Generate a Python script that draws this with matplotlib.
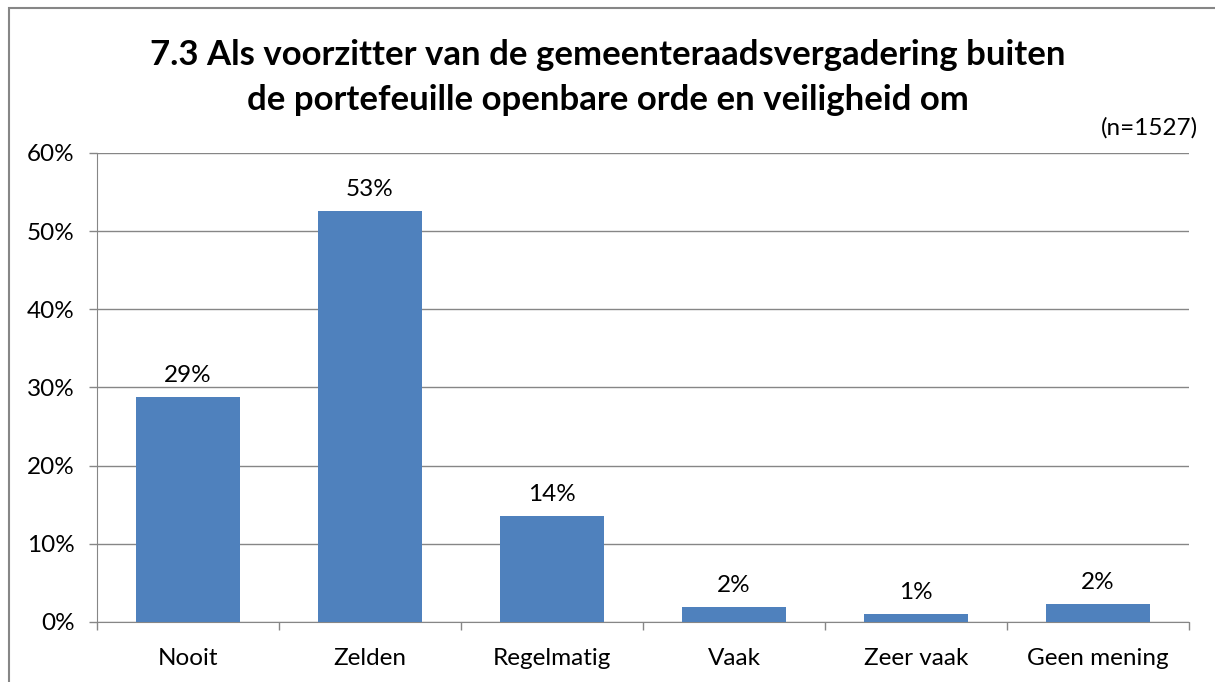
import matplotlib.pyplot as plt
from matplotlib.patches import Rectangle
from matplotlib.ticker import FixedLocator, PercentFormatter

categories = ["Nooit", "Zelden", "Regelmatig", "Vaak", "Zeer vaak", "Geen mening"]
values = [28.8, 52.6, 13.6, 1.9, 1.0, 2.3]
labels = ["29%", "53%", "14%", "2%", "1%", "2%"]

plt.rcParams["font.family"] = ["Lato", "DejaVu Sans"]

fig = plt.figure(figsize=(12.15, 6.82), dpi=100)
ax = fig.add_axes([97 / 1215, 60 / 682, 1092 / 1215, 469 / 682])

x = range(len(categories))
bars = ax.bar(x, values, width=0.566, color="#4F81BD", zorder=3)
for b, lab in zip(bars, labels):
    ax.text(b.get_x() + b.get_width() / 2, b.get_height() + 1.4, lab,
            ha="center", va="bottom", fontsize=17.5)

ax.set_xlim(-0.5, len(categories) - 0.5)
ax.set_ylim(0, 60)
ax.set_yticks(range(0, 61, 10))
ax.yaxis.set_major_formatter(PercentFormatter(decimals=0))
ax.grid(axis="y", color="#868686", linewidth=1, zorder=0)

ax.set_xticks(list(x))
ax.set_xticklabels(categories, fontsize=17.5)
ax.xaxis.set_minor_locator(FixedLocator([i - 0.5 for i in range(len(categories) + 1)]))
ax.tick_params(axis="x", which="major", length=0, pad=19)
ax.tick_params(axis="x", which="minor", length=6, color="#868686", width=1)
ax.tick_params(axis="y", length=6, color="#868686", width=1, labelsize=17.5, pad=10)

for side in ["top", "right"]:
    ax.spines[side].set_visible(False)
for side in ["left", "bottom"]:
    ax.spines[side].set_color("#868686")

fig.text(0.5, 1 - 55 / 682, "7.3 Als voorzitter van de gemeenteraadsvergadering buiten",
         ha="center", va="center", fontsize=25, fontweight="bold")
fig.text(0.5, 1 - 100 / 682, "de portefeuille openbare orde en veiligheid om",
         ha="center", va="center", fontsize=25, fontweight="bold")
fig.text(1198 / 1215, 1 - 128 / 682, "(n=1527)", ha="right", va="center", fontsize=17.5)

# chart-area border, cut off at right and bottom like the source
fig.patches.append(Rectangle((9 / 1215, -0.05), 1.1, 1.05 - 8 / 682,
                             transform=fig.transFigure, fill=False,
                             edgecolor="#868686", linewidth=1.5))

fig.savefig("out.png", dpi=100)
